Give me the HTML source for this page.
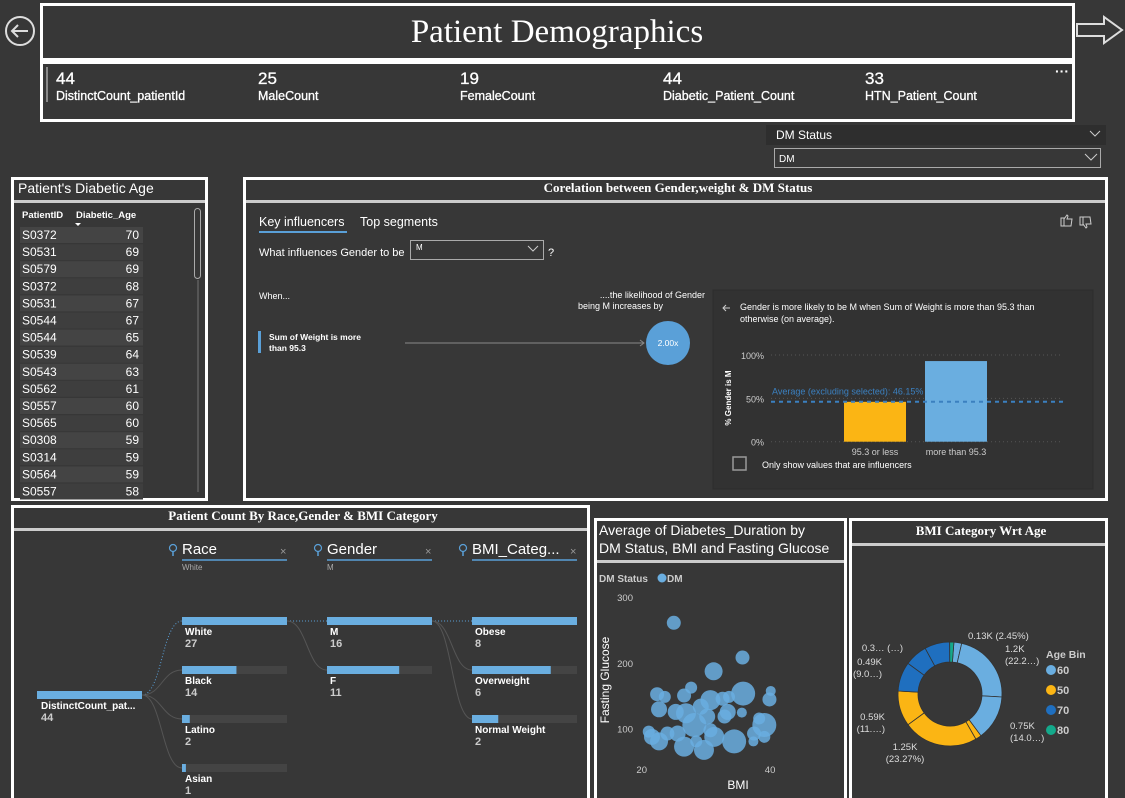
<!DOCTYPE html>
<html><head><meta charset="utf-8"><style>
html,body{margin:0;padding:0;background:#373737;}
svg{display:block;font-family:"Liberation Sans",sans-serif;}
</style></head><body>
<svg id="dash" width="1125" height="798" viewBox="0 0 1125 798">
<rect x="0" y="0" width="1125" height="798" fill="#373737"/>
<g><circle cx="20" cy="31" r="14" fill="none" stroke="#ddd" stroke-width="2"/><path d="M28 31 H12 M18 25 L12 31 L18 37" stroke="#ddd" stroke-width="2" fill="none"/></g>
<g><path d="M1077 24 H1104 V17 L1122 30 L1104 43 V36 H1077 Z" fill="none" stroke="#ddd" stroke-width="2"/></g>
<g><rect x="41.5" y="4.5" width="1032" height="55" fill="#373737" stroke="#fff" stroke-width="3"/>
<text x="557" y="42" text-anchor="middle" fill="#fff" font-family="Liberation Serif,serif" font-size="33">Patient Demographics</text></g>
<g><rect x="41.5" y="62.5" width="1032" height="58" fill="#373737" stroke="#fff" stroke-width="3"/>
<rect x="46" y="67" width="2" height="35" fill="#888"/>
<text x="1062" y="76" text-anchor="middle" fill="#fff" font-size="14" font-weight="bold">···</text>
<g fill="#fff" stroke="#fff" stroke-width="0.3"><text x="56" y="84" font-size="17">44</text><text x="56" y="100" font-size="12.5">DistinctCount_patientId</text>
<text x="258" y="84" font-size="17">25</text><text x="258" y="100" font-size="12.5">MaleCount</text>
<text x="460" y="84" font-size="17">19</text><text x="460" y="100" font-size="12.5">FemaleCount</text>
<text x="663" y="84" font-size="17">44</text><text x="663" y="100" font-size="12.5">Diabetic_Patient_Count</text>
<text x="865" y="84" font-size="17">33</text><text x="865" y="100" font-size="12.5">HTN_Patient_Count</text></g></g>
<g><rect x="766" y="125" width="340" height="20" fill="#2e2e2e"/>
<text x="776" y="139" fill="#fff" font-size="12">DM Status</text><path d="M1090 131 l5 5 l5 -5" stroke="#ccc" fill="none"/>
<rect x="774.5" y="148.5" width="326" height="19" fill="#373737" stroke="#aaa"/><text x="779" y="162" fill="#fff" font-size="10">DM</text><path d="M1085 154 l6 6 l6 -6" stroke="#ccc" fill="none"/></g>
<g><rect x="12.5" y="178.5" width="194" height="321" fill="#373737" stroke="#fff" stroke-width="3"/>
<text x="18" y="193" fill="#fff" font-size="14">Patient's Diabetic Age</text><rect x="14" y="200" width="191" height="3" fill="#ccc"/>
<text x="22" y="218" fill="#fff" font-size="9.5" font-weight="bold">PatientID</text><text x="76" y="218" fill="#fff" font-size="9.5" font-weight="bold">Diabetic_Age</text>
<path d="M75 223 l3 3 l3 -3z" fill="#fff"/>
<rect x="194.5" y="208.5" width="6" height="70" rx="3" fill="none" stroke="#aaa"/><rect x="197" y="280" width="2" height="212" fill="#555"/>
<g id="tableRows"></g></g>
<g><rect x="244.5" y="178.5" width="862" height="321" fill="#373737" stroke="#fff" stroke-width="3"/>
<text x="678" y="192" text-anchor="middle" fill="#fff" font-family="Liberation Serif,serif" font-weight="bold" font-size="13">Corelation between Gender,weight &amp; DM Status</text>
<rect x="246" y="200" width="859" height="3" fill="#ccc"/>
<text x="259" y="226" fill="#fff" font-size="12.5">Key influencers</text><rect x="259" y="231" width="88" height="2" fill="#5aa0d8"/>
<text x="360" y="226" fill="#fff" font-size="12.5">Top segments</text>
<g fill="none" stroke="#ccc" stroke-width="1"><path d="M1061 218 h3 v8 h-3z M1064 219 l3 -4 l1 1 l-1 3 h5 l-1 7 h-7"/><path d="M1080 225 h3 v-8 h-3z M1083 224 l3 4 l1 -1 l-1 -3 h5 l-1 -7 h-7"/></g>
<text x="259" y="256" fill="#fff" font-size="11">What influences Gender to be</text>
<rect x="410.5" y="240.5" width="133" height="19" fill="#373737" stroke="#aaa"/><text x="416" y="250" fill="#fff" font-size="8">M</text><path d="M528 246 l5 5 l5 -5" stroke="#ccc" fill="none"/>
<text x="548" y="256" fill="#fff" font-size="11">?</text>
<text x="259" y="299" fill="#fff" font-size="9">When...</text>
<text x="705" y="298" text-anchor="end" fill="#fff" font-size="9">....the likelihood of Gender</text><text x="663" y="309" text-anchor="end" fill="#fff" font-size="9">being M increases by</text>
<g><rect x="258" y="331" width="3" height="22" fill="#5aa0d8"/><text x="269" y="340" fill="#fff" font-size="8.5" font-weight="bold">Sum of Weight is more</text><text x="269" y="351" fill="#fff" font-size="8.5" font-weight="bold">than 95.3</text>
<line x1="405" y1="343" x2="644" y2="343" stroke="#888"/><path d="M640 340 l4 3 l-4 3" fill="none" stroke="#888"/>
<circle cx="668" cy="343" r="22" fill="#5aa0d8"/><text x="668" y="346" text-anchor="middle" fill="#fff" font-size="8.5">2.00x</text></g>
<rect x="713" y="290" width="380" height="199" fill="#323232" stroke="#2c2c2c"/>
<path d="M730 308 h-7 m3 -3 l-3 3 l3 3" stroke="#ccc" fill="none"/>
<text x="740" y="310" fill="#fff" font-size="9">Gender is more likely to be M when Sum of Weight is more than 95.3 than</text>
<text x="740" y="322" fill="#fff" font-size="9">otherwise (on average).</text>
<g id="kiChart"></g>
<rect x="733" y="457" width="13" height="13" fill="none" stroke="#999" stroke-width="1.5"/>
<text x="762" y="468" fill="#fff" font-size="9">Only show values that are influencers</text></g>
<g><rect x="12.5" y="506.5" width="576" height="295" fill="#373737" stroke="#fff" stroke-width="3"/>
<text x="303" y="520" text-anchor="middle" fill="#fff" font-family="Liberation Serif,serif" font-weight="bold" font-size="13">Patient Count By Race,Gender &amp; BMI Category</text>
<rect x="14" y="528" width="573" height="3" fill="#ccc"/><g id="decomp"></g></g>
<g><rect x="595.5" y="519.5" width="250" height="280" fill="#373737" stroke="#fff" stroke-width="3"/>
<text x="599" y="535" fill="#fff" font-size="14">Average of Diabetes_Duration by</text><text x="599" y="553" fill="#fff" font-size="14">DM Status, BMI and Fasting Glucose</text>
<rect x="597" y="560" width="247" height="3" fill="#ccc"/>
<text x="599" y="582" fill="#ccc" font-size="10" font-weight="bold">DM Status</text><circle cx="662" cy="578" r="4.5" fill="#6aaee0"/><text x="667" y="582" fill="#ccc" font-size="10" font-weight="bold">DM</text>
<text transform="translate(609,680) rotate(-90)" text-anchor="middle" fill="#fff" font-size="12">Fasting Glucose</text>
<text x="738" y="789" text-anchor="middle" fill="#fff" font-size="12">BMI</text>
<g id="scatter"></g></g>
<g><rect x="850.5" y="519.5" width="256" height="280" fill="#373737" stroke="#fff" stroke-width="3"/>
<text x="981" y="535" text-anchor="middle" fill="#fff" font-family="Liberation Serif,serif" font-weight="bold" font-size="13">BMI Category Wrt Age</text>
<rect x="852" y="543" width="253" height="3" fill="#ccc"/><g id="donut"></g>
<text x="1046" y="658" fill="#ccc" font-size="10.5" font-weight="bold">Age Bin</text><g id="legend"></g></g>
</svg>
<script>
const NS="http://www.w3.org/2000/svg";
function mk(tag,attrs,parent,txt){const e=document.createElementNS(NS,tag);for(const k in attrs)e.setAttribute(k,attrs[k]);if(txt!==undefined)e.textContent=txt;parent.appendChild(e);return e;}
const patientIds=["S0372","S0531","S0579","S0372","S0531","S0544","S0544","S0539","S0543","S0562","S0557","S0565","S0308","S0314","S0564","S0557"];
const diabeticAges=[70,69,69,68,67,67,65,64,63,61,60,60,59,59,59,58];
const kiCategories=["95.3 or less","more than 95.3"];
const kiValues=[46,93];
const kiAverage=46.15;
const kiTicks=[0,50,100];
const raceCats=["White","Black","Latino","Asian"];const raceVals=[27,14,2,1];
const genderCats=["M","F"];const genderVals=[16,11];
const bmiCats=["Obese","Overweight","Normal Weight"];const bmiVals=[8,6,2];
const totalCount=44;
const bmiValues=[25.0,35.7,31.2,35.8,40.1,39.9,22.4,23.6,22.7,27.7,26.6,25.3,26.9,30.7,32.6,33.6,33.4,35.6,28.2,30.2,30.7,31.3,34.4,26.6,29.7,28.5,21.1,21.6,22.7,24.0,39.1,38.3,37.5,37.4,39.1,25.6,29.2,32.9];
const glucoseValues=[261,208,187,153,157,144,152,148,129,162,150,125,123,143,145,148,125,124,105,118,97,87,80,72,67,80,95,87,80,92,105,115,92,80,87,92,133,118];
const durationValues=[7,7,9,12,5,7,7,6,8,6,7,8,10,10,7,6,8,5,12,8,7,10,12,10,10,6,6,8,9,7,12,6,7,5,6,8,8,7];
const xTicks=[20,40];const yTicks=[100,200,300];
const donutLabels=["0.13K (2.45%)","1.2K (22.2…)","0.75K (14.0…)","","1.25K (23.27%)","0.59K (11.…)","0.49K (9.0…)","0.3… (…)","",""];
const donutValues=[0.13,1.2,0.75,0.1,1.25,0.59,0.49,0.38,0.42,0.07];
const donutBins=["60","60","60","50","50","50","70","70","70","80"];
const legendBins=["60","50","70","80"];
const binColors={"60":"#6aaee0","50":"#fbb514","70":"#1f6fbf","80":"#14a98b"};

const tr=document.getElementById("tableRows");
patientIds.forEach((id,i)=>{const y=227+i*17.1;
 const g=mk("g",{},tr);
 
 
 mk("rect",{x:20,y:y,width:123,height:16,fill:i%2?"#3e3e3e":"#444"},g);
 mk("text",{x:22,y:y+12,fill:"#fff","font-size":12},g,id);
 mk("text",{x:139,y:y+12,fill:"#fff","font-size":12,"text-anchor":"end"},g,diabeticAges[i]);});

const ki=document.getElementById("kiChart");
const kiY=v=>441.7-v/100*86.7;
kiTicks.forEach(t=>{mk("line",{x1:771,x2:1063,y1:kiY(t),y2:kiY(t),stroke:"#555","stroke-dasharray":"1,3"},ki);
 mk("text",{x:764,y:kiY(t)+4,fill:"#ccc","font-size":9,"text-anchor":"end"},ki,t+"%");});
mk("text",{transform:"translate(731,398) rotate(-90)",fill:"#fff","font-size":8,"font-weight":"bold","text-anchor":"middle"},ki,"% Gender is M");
const kiX=[844,925];const kiCol=["#fbb514","#6aaee0"];
kiCategories.forEach((c,i)=>{const b=mk("rect",{x:kiX[i],y:kiY(kiValues[i]),width:62,height:441.7-kiY(kiValues[i]),fill:kiCol[i]},ki);
 
 
 mk("text",{x:kiX[i]+31,y:455,fill:"#ccc","font-size":9,"text-anchor":"middle"},ki,c);});
mk("line",{x1:771,x2:1063,y1:kiY(kiAverage),y2:kiY(kiAverage),stroke:"#3b80c0","stroke-width":2,"stroke-dasharray":"4,4"},ki);
mk("text",{x:772,y:kiY(kiAverage)-7,fill:"#3b80c0","font-size":9},ki,"Average (excluding selected): "+kiAverage+"%");

const dt=document.getElementById("decomp");
function header(x,name,sub){
 mk("circle",{cx:x-9,cy:548,r:3.5,fill:"none",stroke:"#5aa0d8","stroke-width":1.2},dt);
 mk("line",{x1:x-9,x2:x-9,y1:552,y2:556,stroke:"#5aa0d8","stroke-width":1.5},dt);
 mk("text",{x:x,y:554,fill:"#fff","font-size":15},dt,name);
 mk("line",{x1:x,x2:x+105,y1:560,y2:560,stroke:"#5aa0d8","stroke-width":1.5},dt);
 mk("text",{x:x+98,y:555,fill:"#999","font-size":11},dt,"×");
 mk("text",{x:x,y:570,fill:"#aaa","font-size":8},dt,sub);}
header(182,"Race","White");header(327,"Gender","M");header(472,"BMI_Categ...","");
function col(x,cats,vals,max){cats.forEach((c,i)=>{const y=617+i*49;
 mk("rect",{x:x,y:y,width:105,height:8,fill:"#444"},dt);
 const b=mk("rect",{x:x,y:y,width:105*vals[i]/max,height:8,fill:"#6aaee0"},dt);
 
 
 mk("text",{x:x+3,y:y+18,fill:"#fff","font-size":10,"font-weight":"bold"},dt,c);
 mk("text",{x:x+3,y:y+30,fill:"#ccc","font-size":11,"font-weight":"bold"},dt,vals[i]);});}
function links(x1,y1,x2,n){for(let i=0;i<n;i++){const y2=621+i*49;
 mk("path",{d:`M${x1} ${y1} C${x1+20} ${y1},${x2-20} ${y2},${x2} ${y2}`,fill:"none",stroke:i?"#555":"#5aa0d8","stroke-dasharray":i?"":"1,2"},dt);}}
links(142,695,182,raceCats.length);links(287,621,327,genderCats.length);links(432,621,472,bmiCats.length);
mk("rect",{x:37,y:691,width:105,height:8,fill:"#6aaee0"},dt);
mk("text",{x:41,y:709,fill:"#fff","font-size":10,"font-weight":"bold"},dt,"DistinctCount_pat...");
mk("text",{x:41,y:721,fill:"#ccc","font-size":11,"font-weight":"bold"},dt,totalCount);
col(182,raceCats,raceVals,Math.max(...raceVals));col(327,genderCats,genderVals,Math.max(...genderVals));col(472,bmiCats,bmiVals,Math.max(...bmiVals));

const sc=document.getElementById("scatter");
const sx=v=>641.7+(v-20)*6.42, sy=v=>728.3-(v-100)*0.6553;
xTicks.forEach(t=>mk("text",{x:sx(t),y:773,fill:"#ccc","font-size":9.5,"text-anchor":"middle"},sc,t));
yTicks.forEach(t=>mk("text",{x:633,y:sy(t)+4,fill:"#ccc","font-size":9.5,"text-anchor":"end"},sc,t));
bmiValues.forEach((b,i)=>{const c=mk("circle",{cx:sx(b),cy:sy(glucoseValues[i]),r:durationValues[i],fill:"#6aaee0","fill-opacity":0.85},sc);
 
 });

const dn=document.getElementById("donut");
const cx=950,cy=694,R=52,r=32;const tot=donutValues.reduce((a,b)=>a+b,0);
let a0=Math.PI*2*0.012;
donutValues.forEach((v,i)=>{const a1=a0+v/tot*Math.PI*2;
 const p=(a,rr)=>[cx+rr*Math.sin(a),cy-rr*Math.cos(a)];const large=a1-a0>Math.PI?1:0;
 const [x1,y1]=p(a0,R),[x2,y2]=p(a1,R),[x3,y3]=p(a1,r),[x4,y4]=p(a0,r);
 const s=mk("path",{d:`M${x1} ${y1} A${R} ${R} 0 ${large} 1 ${x2} ${y2} L${x3} ${y3} A${r} ${r} 0 ${large} 0 ${x4} ${y4}Z`,fill:binColors[donutBins[i]],stroke:"#333","stroke-width":0.8},dn);
 
 
 a0=a1;});
const lblPos=[[968,639,"start"],[1005,652,"start"],[1010,729,"start"],null,[905,750,"middle"],[885,720,"end"],[882,665,"end"],[903,651,"end"],null,null];
donutLabels.forEach((l,i)=>{const p=lblPos[i];if(!p||!l)return;const parts=l.split(" ");
 if(i===0||i===7){mk("text",{x:p[0],y:p[1],fill:"#ddd","font-size":9.5,"text-anchor":p[2]},dn,l);return;}
 mk("text",{x:p[0],y:p[1],fill:"#ddd","font-size":9.5,"text-anchor":p[2]},dn,parts[0]);
 mk("text",{x:p[0],y:p[1]+12,fill:"#ddd","font-size":9.5,"text-anchor":p[2]},dn,parts[1]);});
const lg=document.getElementById("legend");
legendBins.forEach((b,i)=>{const y=670+i*20;mk("circle",{cx:1051,cy:y,r:5,fill:binColors[b]},lg);mk("text",{x:1057,y:y+4,fill:"#ccc","font-size":11,"font-weight":"bold"},lg,b);});
</script>
</body></html>
